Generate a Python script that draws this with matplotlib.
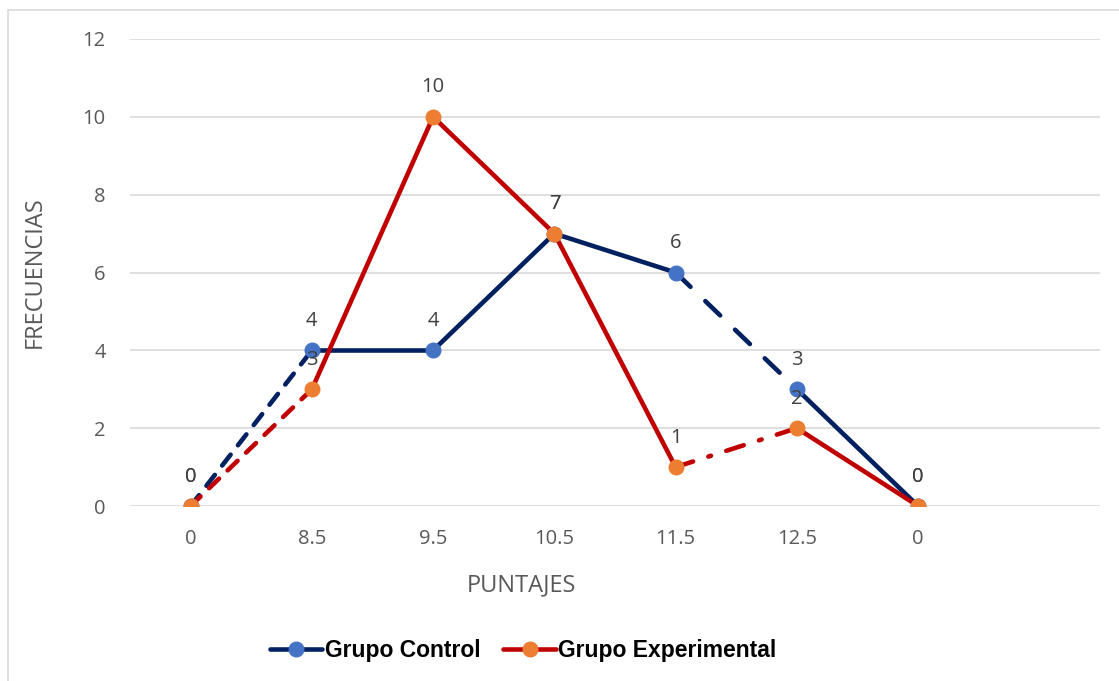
import matplotlib
matplotlib.use("Agg")
import matplotlib.pyplot as plt
from matplotlib.patches import Rectangle
from matplotlib.lines import Line2D

categories = ["0", "8.5", "9.5", "10.5", "11.5", "12.5", "0"]
control = [0, 4, 4, 7, 6, 3, 0]
experimental = [0, 3, 10, 7, 1, 2, 0]
control_styles = ["dashed", "solid", "solid", "solid", "longdash", "solid"]
exp_styles = ["dashed", "solid", "solid", "solid", "dashdot", "solid"]
yticks = [0, 2, 4, 6, 8, 10, 12]

plt.rcParams['font.family'] = ['Open Sans', 'DejaVu Sans']

W, H = 1119, 681
fig = plt.figure(figsize=(W / 100, H / 100), dpi=100)
ax = fig.add_axes([130 / W, 1 - 506 / H, (1100 - 130) / W, (506 - 39) / H])

# outer frame
fig.patches.append(Rectangle((8 / W, -0.1), 1.2, 1 - 10 / H + 0.1, transform=fig.transFigure,
                             fill=False, edgecolor="#d9d9d9", linewidth=1.2))

dash_map = {
    "solid": None,
    "dashed": (0, (3.0, 2.6)),
    "longdash": (0, (4.5, 4.5)),
    "dashdot": (0, (4.0, 3.5, 0.6, 3.5)),
}

def draw_series(vals, styles, lc, mc):
    x = list(range(len(vals)))
    for i, st in enumerate(styles):
        ls = dash_map[st]
        ax.plot(x[i:i + 2], vals[i:i + 2], color=lc, linewidth=3.3,
                linestyle="-" if ls is None else ls, solid_capstyle="round",
                dash_capstyle="round", zorder=3)
    ax.plot(x, vals, linestyle="none", marker="o", markersize=10.5,
            markerfacecolor=mc, markeredgecolor=mc, zorder=4)
    for xi, v in zip(x, vals):
        ax.annotate(str(v), (xi, v), xytext=(0, 14), textcoords="offset points",
                    ha="center", va="bottom", fontsize=14.5, color="#404040", zorder=5)

draw_series(control, control_styles, "#002060", "#4472C4")
draw_series(experimental, exp_styles, "#C00000", "#ED7D31")

ax.set_xlim(-0.5, 7.5)
ax.set_ylim(0, 12)
ax.set_yticks(yticks)
ax.set_xticks(range(len(categories)))
ax.set_xticklabels(categories)
ax.tick_params(axis="both", length=0, labelsize=14.5, labelcolor="#595959")
ax.tick_params(axis="x", pad=16.5)
ax.tick_params(axis="y", pad=17.5)
ax.grid(axis="y", color="#d9d9d9", linewidth=1.2, zorder=0)
ax.set_axisbelow(True)
for s in ax.spines.values():
    s.set_visible(False)

fig.text(35 / W, 1 - 272 / H, "FRECUENCIAS", rotation=90, ha="center", va="center",
         fontsize=17, color="#595959")
fig.text(521 / W, 1 - 585 / H, "PUNTAJES", ha="center", va="center",
         fontsize=17, color="#595959")

handles = [
    Line2D([], [], color="#002060", linewidth=3.3, marker="o", markersize=10.5,
           markerfacecolor="#4472C4", markeredgecolor="#4472C4", solid_capstyle="round"),
    Line2D([], [], color="#C00000", linewidth=3.3, marker="o", markersize=10.5,
           markerfacecolor="#ED7D31", markeredgecolor="#ED7D31", solid_capstyle="round"),
]
fig.legend(handles, ["Grupo Control", "Grupo Experimental"], loc="center",
           bbox_to_anchor=(523 / W, 1 - 651 / H), ncol=2, frameon=False,
           prop={"family": ["Liberation Sans Narrow", "Liberation Sans"], "weight": "bold", "size": 16.5},
           handlelength=2.3, handletextpad=0.1, columnspacing=1.0)

fig.savefig("out.png", dpi=100)
